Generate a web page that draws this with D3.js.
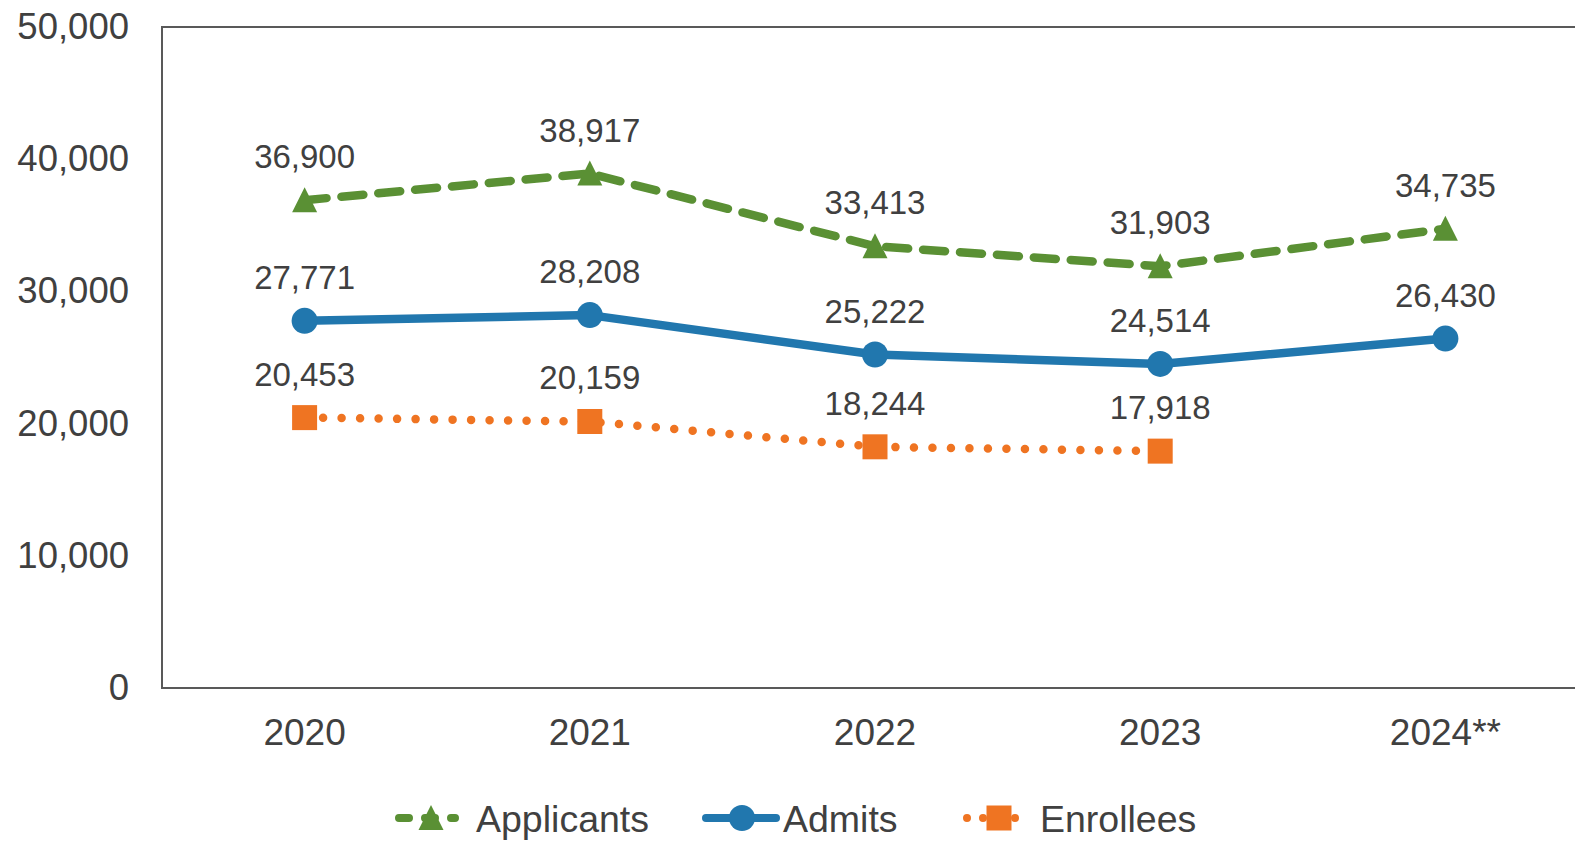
<!DOCTYPE html>
<html lang="en">
<head>
<meta charset="UTF-8">
<title>Applicants, Admits, Enrollees</title>
<script src="https://cdn.jsdelivr.net/npm/d3@7"></script>
<style>
  html, body { margin: 0; padding: 0; background: #fff; overflow: hidden; }
  text { font-family: "Liberation Sans", Arial, sans-serif; fill: #404040; }
  .line { fill: none; }
</style>
</head>
<body>
<script>
var years = ["2020", "2021", "2022", "2023", "2024**"];
var applicants = [36900, 38917, 33413, 31903, 34735];
var admits = [27771, 28208, 25222, 24514, 26430];
var enrollees = [20453, 20159, 18244, 17918];
var yTicks = [0, 10000, 20000, 30000, 40000, 50000];

var W = 1575, H = 841;
var plot = {left: 162, top: 27, right: 1588, bottom: 688};

var svg = d3.select("body").append("svg")
    .attr("width", W).attr("height", H);

var x = d3.scalePoint().domain(years).range([plot.left, plot.right]).padding(0.5);
var y = d3.scaleLinear().domain([0, 50000]).range([plot.bottom, plot.top]);
var fmt = d3.format(",");

// frame
svg.append("rect")
    .attr("x", plot.left).attr("y", plot.top)
    .attr("width", plot.right - plot.left).attr("height", plot.bottom - plot.top)
    .attr("fill", "none").attr("stroke", "#595959").attr("stroke-width", 2);

// y axis labels
svg.selectAll(".ytick").data(yTicks).enter().append("text")
    .attr("x", 129).attr("y", function(d) { return y(d) + 12; })
    .attr("text-anchor", "end").style("font-size", "36.5px")
    .text(fmt);

// x axis labels
svg.selectAll(".xtick").data(years).enter().append("text")
    .attr("x", function(d) { return x(d); }).attr("y", 745)
    .attr("text-anchor", "middle").style("font-size", "37px")
    .text(function(d) { return d; });

var series = [
  {name: "Applicants", values: applicants, color: "#5a9034", dash: "22,15", shape: "triangle"},
  {name: "Admits", values: admits, color: "#2177ae", dash: null, shape: "circle"},
  {name: "Enrollees", values: enrollees, color: "#ef7422", dash: "0,18.5", shape: "square"}
];

function marker(g, shape, color) {
  if (shape == "triangle") {
    g.append("path").attr("d", "M0,-13L12.5,12L-12.5,12Z").attr("fill", color);
  } else if (shape == "circle") {
    g.append("circle").attr("r", 13).attr("fill", color);
  } else {
    g.append("rect").attr("x", -12.5).attr("y", -12.5).attr("width", 25).attr("height", 25).attr("fill", color);
  }
}

var line = d3.line()
    .x(function(d, i) { return x(years[i]); })
    .y(function(d) { return y(d); });

series.forEach(function(s) {
  var p = svg.append("path").datum(s.values)
      .attr("class", "line")
      .attr("stroke", s.color)
      .attr("stroke-width", 8.5)
      .attr("stroke-linecap", "round")
      .attr("stroke-linejoin", "round")
      .attr("d", line);
  if (s.dash) p.attr("stroke-dasharray", s.dash);

  s.values.forEach(function(v, i) {
    var g = svg.append("g").attr("transform", "translate(" + x(years[i]) + "," + y(v) + ")");
    marker(g, s.shape, s.color);
    svg.append("text")
        .attr("x", x(years[i])).attr("y", y(v) - 32)
        .attr("text-anchor", "middle").style("font-size", "33px")
        .text(fmt(v));
  });
});

// legend
var legendX = [395, 706, 963];
var legendText = [476, 783, 1040];
series.forEach(function(s, i) {
  var ly = 818;
  var l = svg.append("line")
      .attr("x1", legendX[i] + 4).attr("x2", legendX[i] + 60)
      .attr("y1", ly).attr("y2", ly)
      .attr("stroke", s.color).attr("stroke-width", 8)
      .attr("stroke-linecap", "round");
  if (s.name == "Applicants") l.attr("stroke-dasharray", "10,16");
  if (s.name == "Enrollees") l.attr("stroke-dasharray", "0,16");
  if (s.name == "Admits") l.attr("x1", legendX[i]).attr("x2", legendX[i] + 70);
  var g = svg.append("g").attr("transform", "translate(" + (legendX[i] + 36) + "," + ly + ")");
  marker(g, s.shape, s.color);
  svg.append("text")
      .attr("x", legendText[i]).attr("y", 832)
      .style("font-size", "37.5px")
      .text(s.name);
});
</script>
</body>
</html>
